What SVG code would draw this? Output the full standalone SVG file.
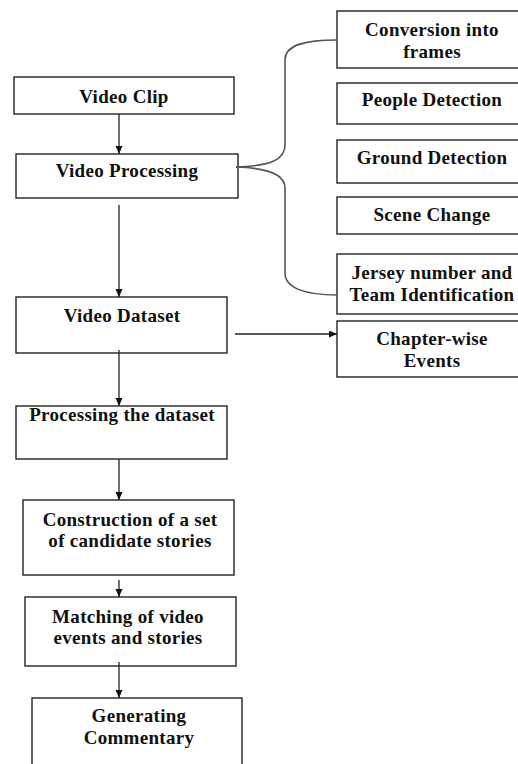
<svg xmlns="http://www.w3.org/2000/svg" width="518" height="764" viewBox="0 0 518 764">
<style>
.box{fill:#fff;stroke:#222;stroke-width:1.4}
.t{font-family:"Liberation Serif","Times New Roman",serif;font-weight:bold;font-size:19px;letter-spacing:0.3px;fill:#111;text-anchor:middle}
.c{fill:none;stroke:#222;stroke-width:1.3}
.br{fill:none;stroke:#555;stroke-width:1.6}
</style>
<defs>
<marker id="ah" markerUnits="userSpaceOnUse" markerWidth="9" markerHeight="8" refX="8" refY="3.5" orient="auto">
<path d="M0,0 L8,3.5 L0,7 z" fill="#111"/>
</marker>
</defs>
<rect width="518" height="764" fill="#fff"/>
<g id="videoClip"><rect class="box" x="14" y="77" width="220" height="37"/><text class="t" x="124" y="103">Video Clip</text></g>
<g id="videoProcessing"><rect class="box" x="16" y="154" width="222" height="44"/><text class="t" x="127" y="177">Video Processing</text></g>
<g id="conversion"><rect class="box" x="337" y="11" width="190" height="57"/><text class="t" x="432" y="36">Conversion into</text><text class="t" x="432" y="58">frames</text></g>
<g id="people"><rect class="box" x="337" y="83" width="190" height="41"/><text class="t" x="432" y="106">People Detection</text></g>
<g id="ground"><rect class="box" x="337" y="140" width="190" height="43"/><text class="t" x="432" y="164">Ground Detection</text></g>
<g id="scene"><rect class="box" x="337" y="197" width="190" height="37"/><text class="t" x="432" y="221">Scene Change</text></g>
<g id="jersey"><rect class="box" x="337" y="254" width="190" height="60"/><text class="t" x="432" y="279">Jersey number and</text><text class="t" x="432" y="301">Team Identification</text></g>
<g id="chapter"><rect class="box" x="337" y="321" width="190" height="56"/><text class="t" x="432" y="345">Chapter-wise</text><text class="t" x="432" y="367">Events</text></g>
<g id="videoDataset"><rect class="box" x="16" y="297" width="211" height="56"/><text class="t" x="122" y="322">Video Dataset</text></g>
<g id="processingDataset"><rect class="box" x="16" y="406" width="211" height="53"/><text class="t" x="122" y="421">Processing the dataset</text></g>
<g id="construction"><rect class="box" x="23" y="500" width="211" height="75"/><text class="t" x="130" y="526">Construction of a set</text><text class="t" x="130" y="547">of candidate stories</text></g>
<g id="matching"><rect class="box" x="25" y="597" width="211" height="69"/><text class="t" x="128" y="623">Matching of video</text><text class="t" x="128" y="644">events and stories</text></g>
<g id="generating"><rect class="box" x="32" y="698" width="210" height="80"/><text class="t" x="139" y="722">Generating</text><text class="t" x="139" y="744">Commentary</text></g>
<g id="connectors">
<line class="c" x1="119" y1="114" x2="119" y2="154" marker-end="url(#ah)"/>
<line class="c" x1="119" y1="205" x2="119" y2="297" marker-end="url(#ah)"/>
<line class="c" x1="119" y1="350" x2="119" y2="406" marker-end="url(#ah)"/>
<line class="c" x1="119" y1="459" x2="119" y2="500" marker-end="url(#ah)"/>
<line class="c" x1="119" y1="580" x2="119" y2="597" marker-end="url(#ah)"/>
<line class="c" x1="119" y1="662" x2="119" y2="698" marker-end="url(#ah)"/>
<line class="c" x1="235" y1="334" x2="337" y2="334" marker-end="url(#ah)"/>
<path class="br" d="M236,167 C270,166 285,160 285,145 L285,60 C285,45 305,40 337,40"/>
<path class="br" d="M236,167 C270,168 285,175 285,188 L285,273 C285,288 305,295 337,295"/>
</g>
</svg>
